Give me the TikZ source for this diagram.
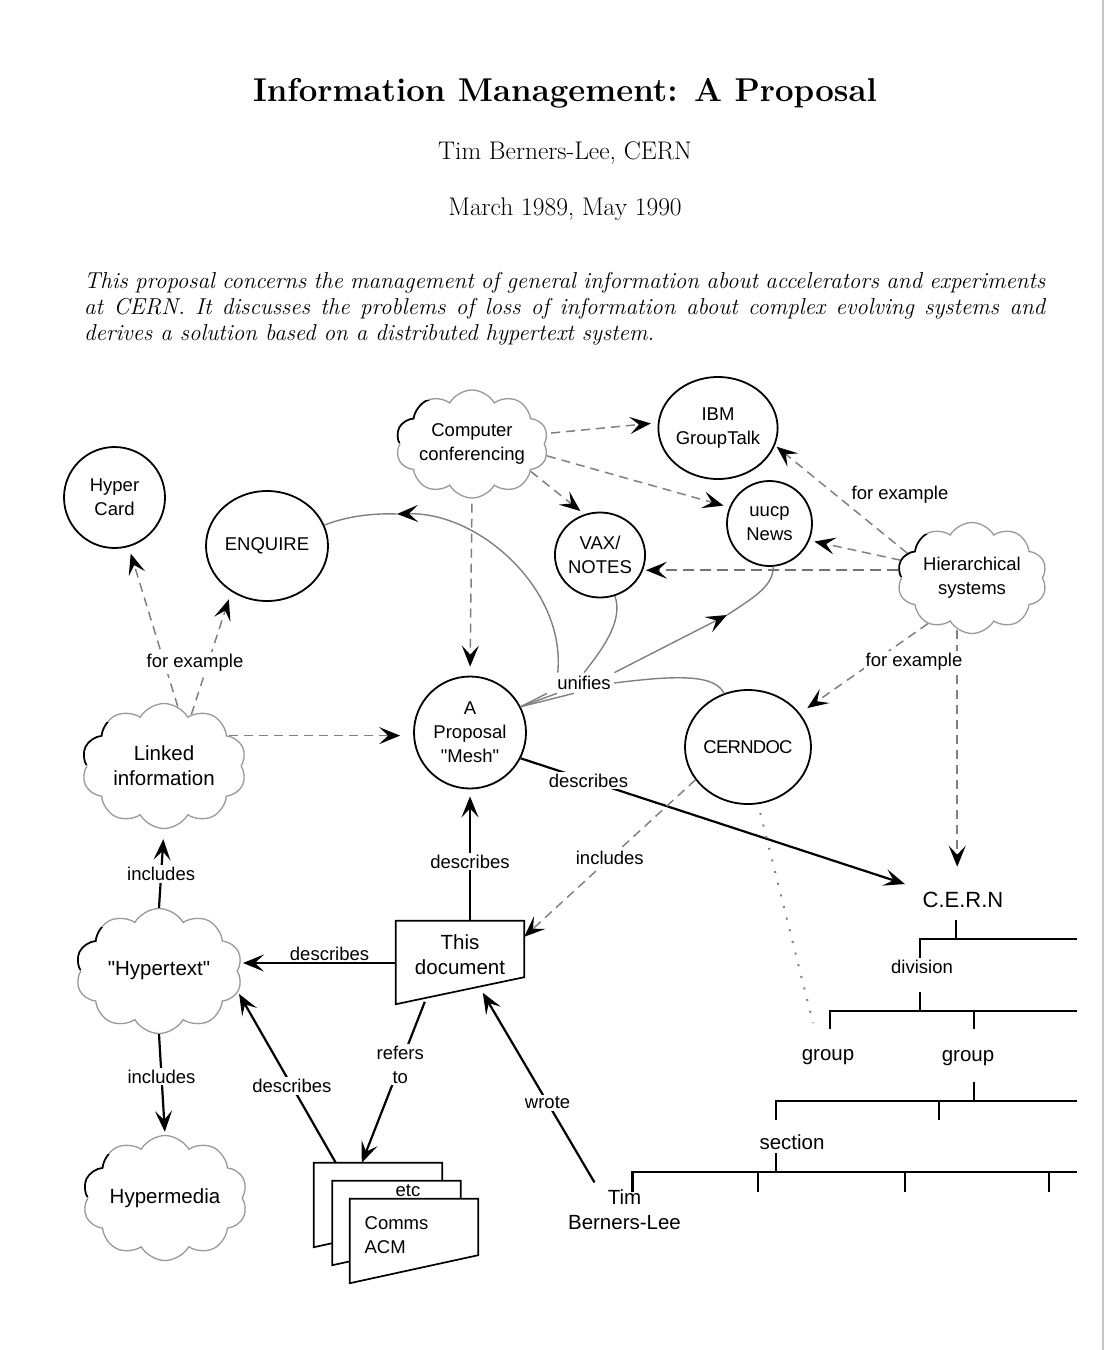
\documentclass[tikz,border=0pt]{standalone}
\usepackage{fontspec}
\setsansfont{Liberation Sans}[Ligatures=TeXOff]
\usetikzlibrary{arrows.meta,shapes.geometric,shapes.symbols}

\tikzset{
  >={Stealth[length=21pt,width=17pt,inset=9pt,color=black]},
  lbl/.style={font=\sffamily\fontsize{18.5}{24}\selectfont, align=center, text=black},
  big/.style={font=\sffamily\fontsize{20.5}{25}\selectfont, align=center, text=black},
  bubble/.style={draw, ellipse, line width=1.8pt, inner sep=0pt, lbl},
  puff/.style={draw=gray!80, cloud, cloud puffs=10, cloud puff arc=120, cloud ignores aspect, line width=1.3pt, inner sep=0pt, lbl},
  dashline/.style={->, gray, line width=1.5pt, dash pattern=on 9pt off 6pt},
  solidline/.style={->, line width=2.2pt},
  unify/.style={gray, line width=1.4pt},
  docnode/.style={rectangle, inner sep=0pt, minimum width=128pt, minimum height=56pt},
  docline/.style={line width=1.7pt, fill=white},
  clearbg/.style={fill=white, inner sep=2pt},
  treeline/.style={line width=2.2pt},
}
\newcommand\docpath[2]{\draw[docline] (#1.north west) -- (#1.north east) -- (#1.south east) -- ([yshift=-#2]#1.south west) -- cycle;}
\newcommand\cloudnub[3]{\begin{scope}
    \clip ([shift={(-92pt,2pt)}]#1.center) rectangle ([shift={(-42pt,44pt)}]#1.center);
    \node[puff, #2, draw=black, line width=1.7pt, text opacity=0] (#1-nub) at (#1.center) {#3};
  \end{scope}}

\begin{document}
\begin{tikzpicture}[x=1pt,y=-1pt]
  \useasboundingbox (0,0) rectangle (1104,1350);
  \fill[gray!45] (1101.5,0) rectangle (1104,1350);

  \node[font=\bfseries\fontsize{33}{38}\selectfont] (title) at (565,93) {Information Management: A Proposal};
  \node[font=\fontsize{25.5}{30}\selectfont] (author) at (565,153) {Tim Berners-Lee, CERN};
  \node[font=\fontsize{25.5}{30}\selectfont] (date) at (565,209) {March 1989, May 1990};
  \node[anchor=north west, inner sep=0pt, text width=961pt, align=justify, font=\itshape\fontsize{23}{26}\selectfont] (abstract) at (84,272)
    {This proposal concerns the management of general information about accelerators and experiments\linebreak
     at CERN. It discusses the problems of loss of information about complex evolving systems and\linebreak
     derives a solution based on a distributed hypertext system.};

  \node[bubble, minimum size=101pt] (hypercard) at (114.5,497.5) {Hyper\\Card};
  \node[bubble, minimum width=122pt, minimum height=110pt] (enquire) at (267,546) {ENQUIRE};
  \node[bubble, minimum width=108pt, minimum height=102pt] (ibm) at (718,428) {IBM\\GroupTalk};
  \node[bubble, minimum size=85pt] (uucp) at (769.5,523.5) {uucp\\News};
  \node[bubble, minimum size=85pt] (vax) at (600,555) {VAX/\\NOTES};
  \node[bubble, minimum size=112pt] (mesh) at (470,732.5) {A\\Proposal\\"Mesh"};
  \node[bubble, minimum width=121pt, minimum height=114pt] (cerndoc) at (748,747) {\addfontfeatures{LetterSpace=-4}CERNDOC};

  \node[puff, minimum width=141pt, minimum height=108pt] (conf) at (472,444) {Computer\\conferencing};
  \node[puff, minimum width=150pt, minimum height=111pt] (hier) at (972,578) {Hierarchical\\systems};
  \node[puff, big, minimum width=165pt, minimum height=125pt] (linked) at (164,766) {Linked\\information};
  \node[puff, big, minimum width=167pt, minimum height=125pt] (hyper) at (159,971) {"Hypertext"};
  \node[puff, big, minimum width=165pt, minimum height=125pt] (hypermed) at (165,1198) {Hypermedia};

  \cloudnub{conf}{minimum width=141pt, minimum height=108pt}{Computer\\conferencing}
  \cloudnub{hier}{minimum width=150pt, minimum height=111pt}{Hierarchical\\systems}
  \cloudnub{linked}{big, minimum width=165pt, minimum height=125pt}{Linked\\information}
  \cloudnub{hyper}{big, minimum width=167pt, minimum height=125pt}{"Hypertext"}
  \cloudnub{hypermed}{big, minimum width=165pt, minimum height=125pt}{Hypermedia}

  \node[docnode] (thisdoc) at (460,949) {};
  \docpath{thisdoc}{27pt}
  \node[big] (thislabel) at (460,955) {This\\document};

  \node[docnode] (backdoc) at (378,1191) {};
  \docpath{backdoc}{28pt}
  \node[docnode] (middoc) at (396.5,1209) {};
  \docpath{middoc}{28pt}
  \node[lbl] (etc) at (408,1191) {etc};
  \node[docnode] (comms) at (414,1227) {};
  \docpath{comms}{28pt}
  \node[lbl, align=left] (acm) at (396.5,1235) {Comms\\ACM};

  \node[font=\sffamily\fontsize{22}{26}\selectfont] (cern) at (963,900) {C.E.R.N};
  \node[lbl] (division) at (922,967) {division};
  \node[big] (group1) at (828,1057) {group};
  \node[big] (group2) at (968,1058) {group};
  \node[big] (section) at (792,1142) {section};
  \node[big] (tim) at (624.5,1210) {Tim\\Berners-Lee};

  \draw[treeline] (956,920) -- (956,939);
  \draw[treeline] (1077,939) -- (920,939) -- (920,958);
  \draw[treeline] (920,992) -- (920,1011);
  \draw[treeline] (830,1029) -- (830,1011) -- (1077,1011);
  \draw[treeline] (974,1011) -- (974,1029);
  \draw[treeline] (974,1082) -- (974,1101);
  \draw[treeline] (776,1120) -- (776,1101) -- (1077,1101);
  \draw[treeline] (939,1101) -- (939,1120);
  \draw[treeline] (776,1153) -- (776,1172);
  \draw[treeline] (632.5,1192) -- (632.5,1172) -- (1077,1172);
  \foreach \x in {758,905,1049}
    \draw[treeline] (\x,1172) -- (\x,1192);

  \draw[dashline, shorten >=7pt, shorten <=4pt] (conf.8) -- (ibm.175);
  \draw[dashline, shorten >=6pt] (conf.-9) -- (uucp.158);
  \draw[dashline, shorten >=5pt] (conf.-25) -- (vax.111);
  \draw[dashline, shorten <=5pt, shorten >=9pt] (conf.south) -- (mesh.north);

  \draw[dashline, shorten >=2pt] (hier.159) -- (ibm.-17);
  \draw[dashline, shorten >=5pt] (hier.166) -- (uucp.-23);
  \draw[dashline, line width=2pt, gray!90!black, dash pattern=on 11pt off 6pt] (hier.174) -- (hier.174 -| vax.east);
  \draw[dashline, shorten >=9pt] (hier.-134) -- (cerndoc.33);
  \draw[dashline, shorten >=22pt] (hier.-106) -- (hier.-106 |- cern.north);

  \draw[dashline, shorten >=7pt] (linked.77) -- (hypercard.-74);
  \draw[dashline, shorten >=8pt] (linked.62) -- (enquire.-128);
  \draw[dashline, shorten >=13pt] (linked.25) -- (linked.25 -| mesh.west);

  \node[lbl, clearbg] (forex1) at (195,663) {for example};
  \node[lbl] (forex2) at (900,495) {for example};
  \node[lbl, clearbg] (forex3) at (914,662) {for example};

  \node[lbl] (unifies) at (584,683) {unifies};
  \coordinate (enqtip) at (397,514);
  \coordinate (uucptip) at (727,615);
  \draw[unify, ->] ([xshift=4pt]unifies.north west) .. controls (566,590) and (480,512) .. (enqtip);
  \draw[unify] (enqtip) .. controls (370,513) and (345,517) .. (enquire.20);
  \draw[unify] (vax.-70) .. controls (624,622) and (600,652) .. (unifies.north);
  \draw[unify, ->] (unifies.north east) -- (uucptip);
  \draw[unify] (uucptip) .. controls (758,595) and (773,585) .. (uucp.-85);
  \draw[unify] (unifies.east) .. controls (685,674) and (715,676) .. (cerndoc.114);
  \foreach \x in {-37,-27,-10}
    \draw[unify] ([xshift=\x pt]unifies.south) -- (mesh.27);

  \coordinate (docleft) at ([yshift=-14pt]thisdoc.west);
  \draw[solidline, shorten >=7pt] (mesh.south |- thisdoc.north) -- node[lbl, clearbg, pos=0.45] (descr1) {describes} (mesh.south);
  \draw[solidline, shorten >=15pt] (mesh.-27) -- node[lbl, clearbg, pos=0.17] (descr2) {describes} (cern.north west);
  \draw[solidline, shorten >=5pt] (docleft) -- node[lbl, above, inner sep=1pt, pos=0.42] (descr3) {describes} (docleft -| hyper.east);
  \draw[solidline, shorten >=2pt] ([xshift=22pt]backdoc.north west) -- node[lbl, clearbg, pos=0.45] (descr4) {describes} (hyper.-15);
  \draw[solidline] ([xshift=29pt,yshift=-81pt]thisdoc.north west) -- node[lbl, clearbg, pos=0.39] (refers) {refers\\to} ([xshift=48pt]backdoc.north west);
  \draw[solidline] ([xshift=-30pt,yshift=4pt]tim.north) -- node[lbl, clearbg, pos=0.42] (wrote) {wrote} ([xshift=87pt,yshift=-72pt]thisdoc.north west);
  \draw[solidline, shorten >=10pt] (hyper.north) -- node[lbl, clearbg, pos=0.43] (incl1) {includes} (linked.south);
  \draw[solidline, shorten >=3pt] (hyper.south) -- node[lbl, clearbg, pos=0.42] (incl2) {includes} (hypermed.north);
  \draw[dashline] (cerndoc.-148) -- node[lbl, clearbg, pos=0.5] (incl3) {includes} ([yshift=-16pt]thisdoc.north east);

  \coordinate (dotend) at (813,1023);
  \draw[gray, line width=2pt, dash pattern=on 2pt off 10pt, shorten <=9pt] (cerndoc.-80) -- (dotend);
\end{tikzpicture}
\end{document}
